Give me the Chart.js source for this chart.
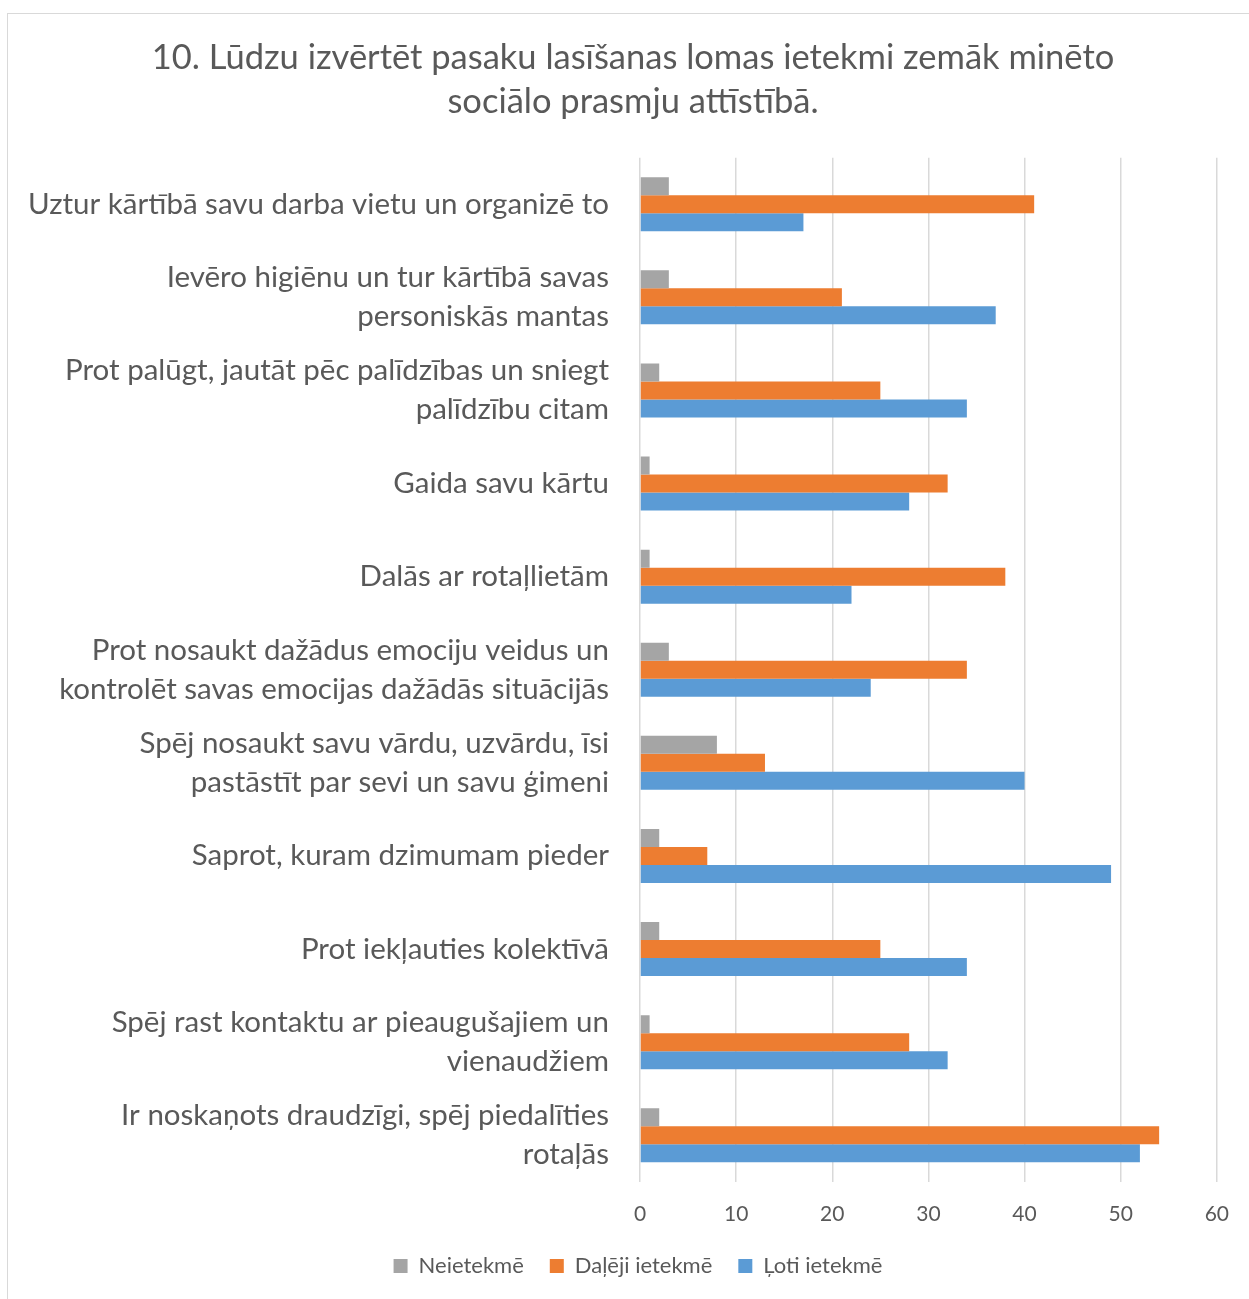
<!DOCTYPE html>
<html>
<head>
<meta charset="utf-8">
<script src="https://cdn.jsdelivr.net/npm/chart.js@4/dist/chart.umd.min.js"></script>
<style>
  html, body { margin: 0; padding: 0; background: #fff; }
  #wrap { position: relative; width: 1249px; height: 1299px; }
  #frame { position: absolute; left: 7px; top: 13px; width: 1250px; height: 1290px; border: 1px solid #d9d9d9; box-sizing: border-box; }
  canvas { position: absolute; left: 0; top: 0; }
</style>
</head>
<body>
<div id="wrap">
  <div id="frame"></div>
  <canvas id="chart" width="1249" height="1299"></canvas>
</div>
<script>
// categories (multi-line labels as in the original)
var categories = [
  ['Uztur kārtībā savu darba vietu un organizē to'],
  ['Ievēro higiēnu un tur kārtībā savas', 'personiskās mantas'],
  ['Prot palūgt, jautāt pēc palīdzības un sniegt', 'palīdzību citam'],
  ['Gaida savu kārtu'],
  ['Dalās ar rotaļlietām'],
  ['Prot nosaukt dažādus emociju veidus un', 'kontrolēt savas emocijas dažādās situācijās'],
  ['Spēj nosaukt savu vārdu, uzvārdu, īsi', 'pastāstīt par sevi un savu ģimeni'],
  ['Saprot, kuram dzimumam pieder'],
  ['Prot iekļauties kolektīvā'],
  ['Spēj rast kontaktu ar pieaugušajiem un', 'vienaudžiem'],
  ['Ir noskaņots draudzīgi, spēj piedalīties', 'rotaļās']
];

var seriesNames = ['Neietekmē', 'Daļēji ietekmē', 'Ļoti ietekmē'];
var neietekme = [3, 3, 2, 1, 1, 3, 8, 2, 2, 1, 2];
var dalejiIetekme = [41, 21, 25, 32, 38, 34, 13, 7, 25, 28, 54];
var lotiIetekme = [17, 37, 34, 28, 22, 24, 40, 49, 34, 32, 52];

var xTicks = [0, 10, 20, 30, 40, 50, 60];

var colors = ['#A5A5A5', '#ED7D31', '#5B9BD5'];
var textColor = '#595959';
var fontFamily = 'Lato, "Open Sans", sans-serif';

var seriesValues = [neietekme, dalejiIetekme, lotiIetekme];
var datasets = [];
for (var i = 0; i < seriesNames.length; i++) {
  datasets.push({
    label: seriesNames[i],
    data: seriesValues[i],
    backgroundColor: colors[i],
    borderWidth: 0,
    barPercentage: 1.0,
    categoryPercentage: 0.58
  });
}

// title and legend in the original sit a bit right of the canvas centre
var shiftBlocks = {
  id: 'shiftBlocks',
  afterLayout: function(chart) {
    if (chart.titleBlock) {
      chart.titleBlock.left += 20;
      chart.titleBlock.right += 20;
    }
    if (chart.legend) {
      chart.legend.left += 25;
      chart.legend.right += 25;
    }
  }
};

var ctx = document.getElementById('chart');
var chart = new Chart(ctx, {
  type: 'bar',
  data: { labels: categories, datasets: datasets },
  plugins: [shiftBlocks],
  options: {
    indexAxis: 'y',
    responsive: false,
    animation: false,
    layout: { padding: { left: 8, right: 31, top: 0, bottom: 12 } },
    plugins: {
      title: {
        display: true,
        text: ['10. Lūdzu izvērtēt pasaku lasīšanas lomas ietekmi zemāk minēto', 'sociālo prasmju attīstībā.'],
        color: textColor,
        font: { family: fontFamily, size: 34.5, weight: 'normal', lineHeight: 1.3 },
        padding: { top: 35, bottom: 33 }
      },
      legend: {
        position: 'bottom',
        labels: {
          color: textColor,
          font: { family: fontFamily, size: 22 },
          boxWidth: 14,
          boxHeight: 14,
          padding: 26
        }
      },
      tooltip: { enabled: false }
    },
    scales: {
      x: {
        min: 0,
        max: 60,
        afterBuildTicks: function(axis) {
          axis.ticks = xTicks.map(function(v) { return { value: v }; });
        },
        afterFit: function(axis) { axis.height -= 18; },
        grid: { color: '#d9d9d9', lineWidth: 1.5, drawTicks: false },
        border: { display: false },
        ticks: {
          color: textColor,
          font: { family: fontFamily, size: 21 },
          padding: 20
        }
      },
      y: {
        grid: { display: false, drawTicks: false },
        border: { display: false },
        ticks: {
          color: textColor,
          font: { family: fontFamily, size: 29.5, lineHeight: 1.32 },
          padding: 31,
          autoSkip: false
        },
        afterFit: function(axis) { axis.width = 632; }
      }
    }
  }
});
</script>
</body>
</html>
